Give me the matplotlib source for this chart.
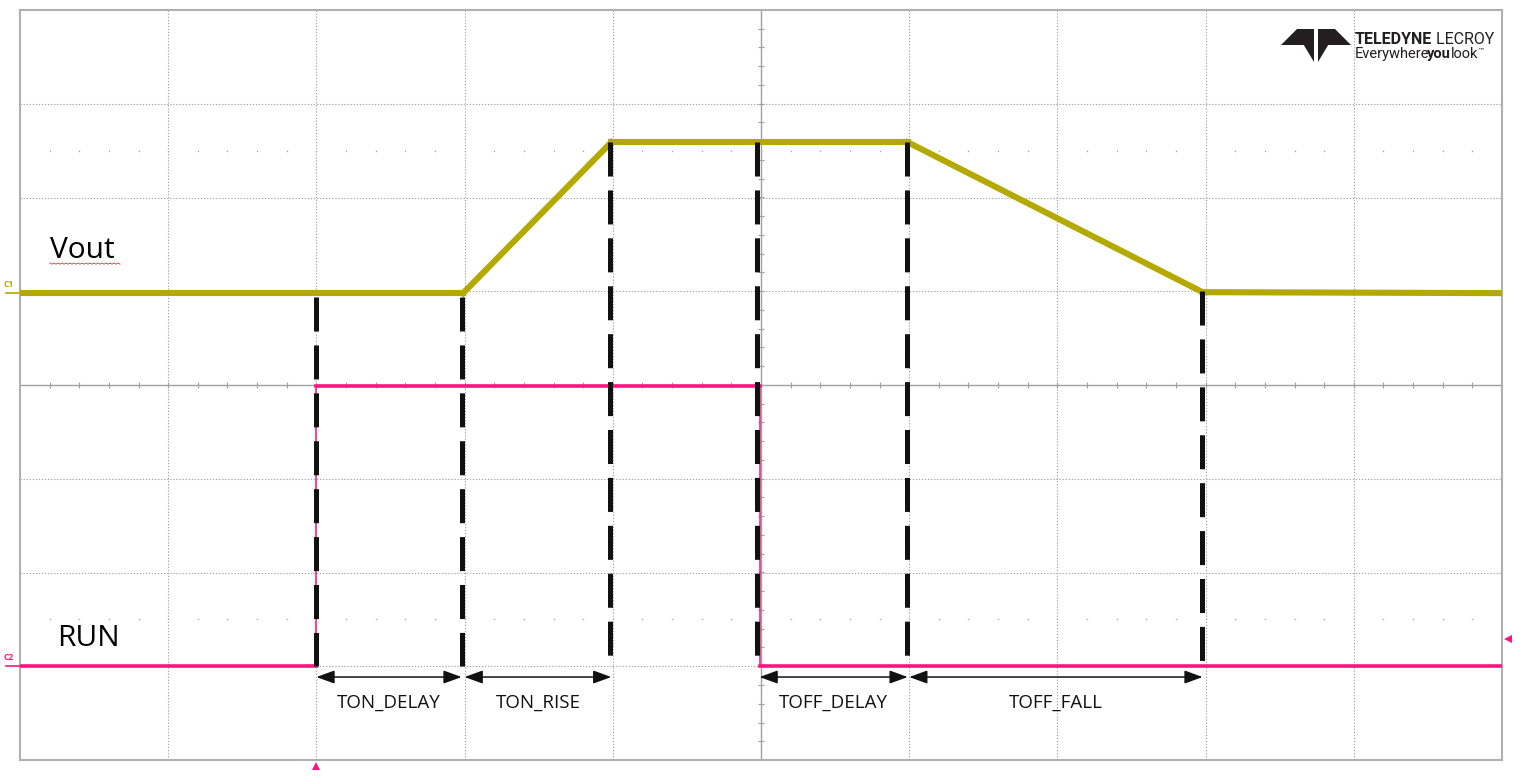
"""Oscilloscope capture: Vout / RUN timing (TON_DELAY, TON_RISE, TOFF_DELAY, TOFF_FALL)."""

import matplotlib as mpl
import matplotlib.pyplot as plt
import numpy as np
from matplotlib.collections import LineCollection
from matplotlib.patches import Polygon

# Scope screen is 10 x 8 divisions; values below are in divisions.
VOUT_T = [0.0, 2.99, 3.99, 5.99, 7.98, 10.0]
VOUT_V = [0.98, 0.98, 2.59, 2.59, 0.99, 0.98]
RUN_T = [0.0, 2.0, 2.0, 4.99, 4.99, 10.0]
RUN_V = [-3.0, -3.0, -0.01, -0.01, -3.0, -3.0]

MARKER_T = [2.0, 2.98, 3.98, 4.97, 5.985, 7.975]
MARKER_TOP = [0.94, 0.94, 2.59, 2.59, 2.59, 1.0]
MARKER_BOTTOM = -3.0

SPAN_LABELS = ["TON_DELAY", "TON_RISE", "TOFF_DELAY", "TOFF_FALL"]
SPAN_START = [2.0, 3.0, 4.99, 6.0]
SPAN_END = [2.98, 3.99, 5.99, 7.98]

OLIVE = "#b3a900"
PINK = "#ff1480"
GRID = "#a9a9a9"
FRAME = "#b0b0b0"
INK = "#111111"

mpl.rcParams["lines.scale_dashes"] = False
mpl.rcParams["font.family"] = ["Open Sans", "DejaVu Sans"]

W, H = 1520, 776
fig = plt.figure(figsize=(W / 100, H / 100), dpi=100)
fig.patch.set_facecolor("white")

# screen area in pixels: x 20..1502, y 10..760
L, R, T, B = 20, 1502, 10, 760
ax = fig.add_axes([L / W, (H - B) / H, (R - L) / W, (B - T) / H])
ax.set_xlim(0, 10)
ax.set_ylim(-4, 4)
ax.set_xticks([])
ax.set_yticks([])
for s in ax.spines.values():
    s.set_color(FRAME)
    s.set_linewidth(1.5)

# graticule
for gx in range(1, 10):
    if gx == 5:
        ax.axvline(gx, color="#a0a0a0", lw=1.0, zorder=1)
    else:
        ax.axvline(gx, color=GRID, lw=0.8, ls=(0, (1, 1.2)), zorder=1)
for gy in range(-3, 4):
    if gy == 0:
        ax.axhline(gy, color="#a0a0a0", lw=1.0, zorder=1)
    else:
        ax.axhline(gy, color=GRID, lw=0.8, ls=(0, (1, 1.2)), zorder=1)

minor_x = np.arange(0.2, 10.0, 0.2)
minor_y = np.arange(-3.8, 4.0, 0.2)
ax.plot(minor_x, np.zeros_like(minor_x), "|", ms=4.5, mew=0.8, color="#a0a0a0", zorder=1)
ax.plot(np.full_like(minor_y, 5.0), minor_y, "_", ms=4.5, mew=0.8, color="#a0a0a0", zorder=1)
for ry in (2.5, -2.5):
    ax.plot(minor_x, np.full_like(minor_x, ry), "s", ms=0.9, mew=0, color="#a0a0a0", zorder=1)


def trace(t, v, color, lw_flat, lw_edge):
    """Draw a trace; vertical (instant) edges are drawn thinner, like on the scope."""
    pts = np.column_stack([t, v])
    segs = np.stack([pts[:-1], pts[1:]], axis=1)
    widths = [lw_edge if a[0] == b[0] else lw_flat for a, b in segs]
    ax.add_collection(LineCollection(segs, colors=color, linewidths=widths,
                                     capstyle="projecting", zorder=3))


trace(VOUT_T, VOUT_V, OLIVE, 4.4, 4.4)
trace(RUN_T, RUN_V, PINK, 2.6, 1.1)

# dashed timing markers
for t, top in zip(MARKER_T, MARKER_TOP):
    ax.plot([t, t], [top, MARKER_BOTTOM], color=INK, lw=3.6,
            ls=(0, (24.5, 10.0)), solid_capstyle="butt",
            dash_capstyle="butt", zorder=4)

# spans
ARROW_Y, LABEL_Y = -3.115, -3.39
for lab, a, b in zip(SPAN_LABELS, SPAN_START, SPAN_END):
    ax.annotate("", xy=(b, ARROW_Y), xytext=(a, ARROW_Y),
                arrowprops=dict(arrowstyle="<|-|>,head_length=1.1,head_width=0.4",
                                color=INK, lw=1.1, shrinkA=0, shrinkB=0),
                zorder=5)
    ax.text((a + b) / 2, LABEL_Y, lab, ha="center", va="center",
            fontsize=13.5, color=INK, zorder=5)

ax.text(0.2, 1.44, "Vout", fontsize=21.5, color="#000000", va="center", ha="left")
ax.text(0.25, -2.70, "RUN", fontsize=21.5, color="#000000", va="center", ha="left")

# overlay in pixel coordinates for scope furniture
pix = fig.add_axes([0, 0, 1, 1], zorder=10)
pix.set_xlim(0, W)
pix.set_ylim(H, 0)
pix.axis("off")
pix.patch.set_alpha(0)

# spell-check squiggle under "Vout"
sq_x = np.arange(50, 121, 2)
pix.plot(sq_x, 263 + np.where(np.arange(sq_x.size) % 2 == 0, 0, 1.2),
         color="#e03030", lw=0.6)

# channel markers
pix.text(4, 289, "C1", fontsize=6, color=OLIVE, fontweight="bold", va="bottom")
pix.plot([6, 20], [293, 293], color=OLIVE, lw=1.2)
pix.text(4, 662, "C2", fontsize=6, color=PINK, fontweight="bold", va="bottom")
pix.plot([6, 20], [666, 666], color=PINK, lw=1.2)
pix.plot([316], [766], "^", ms=6, color=PINK, mew=0)
pix.plot([1508], [639], "<", ms=6, color=PINK, mew=0)

# logo mark
cx = 1316
left_wing = [(1281, 45), (1297, 29), (1311, 29), (1304, 45)]
center_l = [(1305, 29), (1314, 29), (1314, 62), (1302, 42)]
for pts in (left_wing, center_l):
    pix.add_patch(Polygon(pts, closed=True, color="#231f20", lw=0))
    pix.add_patch(Polygon([(2 * cx - x, y) for x, y in pts], closed=True,
                          color="#231f20", lw=0))

t1 = pix.text(1355, 44, "TELEDYNE", fontsize=11.5, fontweight="bold",
              color="#231f20", va="baseline", family="Roboto")
pix.annotate(" LECROY", xy=(1, 0), xycoords=t1, va="bottom", fontsize=11.5,
             color="#231f20", family="Roboto")
e1 = pix.text(1355, 58, "Everywhere", fontsize=10.5, color="#231f20",
              va="baseline", family="Roboto")
e2 = pix.annotate("you", xy=(1, 0), xycoords=e1, xytext=(-1.5, 0),
                  textcoords="offset points", va="bottom", fontsize=10.5,
                  fontweight="bold", color="#231f20", family="Roboto")
e3 = pix.annotate("look", xy=(1, 0), xycoords=e2, xytext=(-0.5, 0),
                  textcoords="offset points", va="bottom", fontsize=10.5,
                  color="#231f20", family="Roboto")
pix.annotate("\u2122", xy=(1, 0.55), xycoords=e3, va="bottom", fontsize=5,
             color="#231f20", family="DejaVu Sans")

fig.savefig("out.png", dpi=100)
